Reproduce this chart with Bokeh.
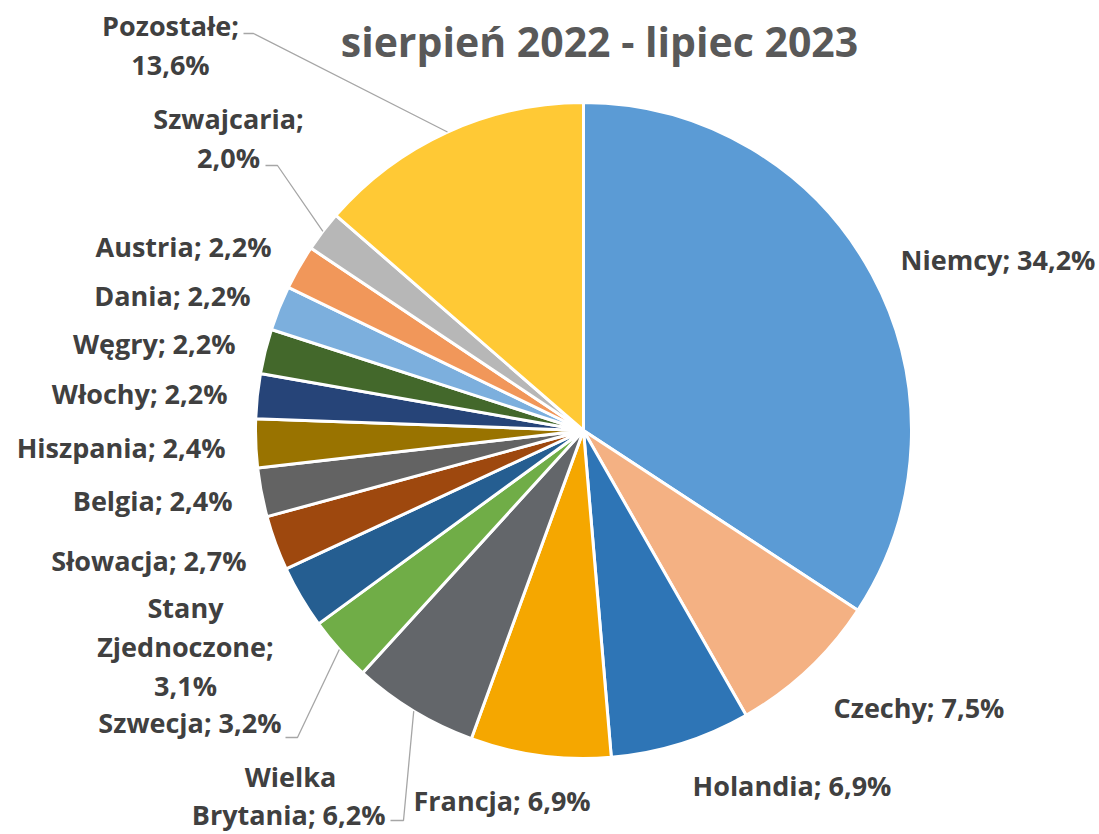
from bokeh.plotting import figure
from bokeh.models import Range1d
from bokeh.core.properties import value
from bokeh.embed import file_html
from bokeh.resources import INLINE
import math

# ---- data ----
categories = ["Niemcy", "Czechy", "Holandia", "Francja", "Wielka Brytania", "Szwecja",
              "Stany Zjednoczone", "Słowacja", "Belgia", "Hiszpania", "Włochy", "Węgry",
              "Dania", "Austria", "Szwajcaria", "Pozostałe"]
values = [34.2, 7.5, 6.9, 6.9, 6.2, 3.2, 3.1, 2.7, 2.4, 2.4, 2.2, 2.2, 2.2, 2.2, 2.0, 13.6]
colors = ["#5B9BD5", "#F4B183", "#2E75B6", "#F5A700", "#63666A", "#70AD47",
          "#255E91", "#9E480E", "#636363", "#997300", "#264478", "#43682B",
          "#7CAFDD", "#F1975A", "#B7B7B7", "#FFC935"]
title = "sierpień 2022 - lipiec 2023"

# ---- layout (reference pixel coordinates) ----
W, H = 1099, 834
def X(px): return px
def Y(py): return H - py

CX, CY, R = 583, 430, 328
FONT = "Open Sans"
FS = "27px"
TXT = "#404040"

# label layout: (x, y of first line, align, line breaks, leader elbow)
label_layout = {
    "Niemcy": (900, 259, "left", None, None),
    "Czechy": (833, 707, "left", None, None),
    "Holandia": (692, 785, "left", None, None),
    "Francja": (413, 800, "left", None, None),
    "Wielka Brytania": (None, None, None, None, None),
    "Szwecja": (281, 722, "right", None, ((297, 737), (285, 737))),
    "Stany Zjednoczone": (185, 607, "center", ["Stany", "Zjednoczone;", "{v}"], None),
    "Słowacja": (246, 560, "right", None, None),
    "Belgia": (232, 500, "right", None, None),
    "Hiszpania": (225, 447, "right", None, None),
    "Włochy": (227, 393, "right", None, None),
    "Węgry": (235, 343, "right", None, None),
    "Dania": (250, 295, "right", None, None),
    "Austria": (271, 246, "right", None, None),
    "Szwajcaria": (228, 118, "center", ["Szwajcaria;", "{v}"], ((277, 165), (265, 165))),
    "Pozostałe": (170, 25, "center", ["Pozostałe;", "{v}"], ((253, 33), (243, 33))),
}
LINE_H = 39

p = figure(width=W, height=H, x_range=Range1d(0, W), y_range=Range1d(0, H),
           output_backend="svg", toolbar_location=None, min_border=0)
p.axis.visible = False
p.grid.visible = False
p.outline_line_color = None
p.background_fill_color = "white"
p.border_fill_color = "white"

total = sum(values)
starts, ends, mids = [], [], []
cum = 0.0
for v in values:
    a0 = math.pi / 2 - 2 * math.pi * cum / total
    cum += v
    a1 = math.pi / 2 - 2 * math.pi * cum / total
    starts.append(a0)
    ends.append(a1)
    mids.append((a0 + a1) / 2)

p.wedge(x=X(CX), y=Y(CY), radius=R, start_angle=starts, end_angle=ends,
        direction="clock", fill_color=colors, line_color="white", line_width=3)

def fmt(v):
    return f"{v:.1f}".replace(".", ",") + "%"

lx, ly, lt, la = [], [], [], []
for name, v, m in zip(categories, values, mids):
    x, y, align, lines, elbow = label_layout[name]
    if name == "Wielka Brytania":
        lx += [X(290), X(385)]
        ly += [Y(776), Y(814)]
        lt += ["Wielka", "Brytania; " + fmt(v)]
        la += ["center", "right"]
        ex = X(CX) + R * math.cos(m)
        ey = Y(CY) + R * math.sin(m)
        p.line([ex, X(403), X(390)], [ey, Y(820), Y(820)], line_color="#A6A6A6", line_width=1.3)
        continue
    if lines is None:
        lines = [name + "; {v}"]
    for i, ln in enumerate(lines):
        lx.append(X(x))
        ly.append(Y(y + i * LINE_H))
        lt.append(ln.replace("{v}", fmt(v)))
        la.append(align)
    if elbow is not None:
        ex = X(CX) + R * math.cos(m)
        ey = Y(CY) + R * math.sin(m)
        p.line([ex, X(elbow[0][0]), X(elbow[1][0])], [ey, Y(elbow[0][1]), Y(elbow[1][1])],
               line_color="#A6A6A6", line_width=1.3)

for al in ["left", "right", "center"]:
    idx = [i for i, a in enumerate(la) if a == al]
    p.text(x=[lx[i] for i in idx], y=[ly[i] for i in idx], text=[lt[i] for i in idx],
           text_font=value(FONT), text_font_style="bold", text_font_size=FS,
           text_color=TXT, text_align=al, text_baseline="middle")

p.text(x=[X(599)], y=[Y(40)], text=[title], text_font=value(FONT), text_font_style="bold",
       text_font_size="41px", text_color="#595959", text_align="center", text_baseline="middle")

open("out.html", "w").write(file_html(p, INLINE))
